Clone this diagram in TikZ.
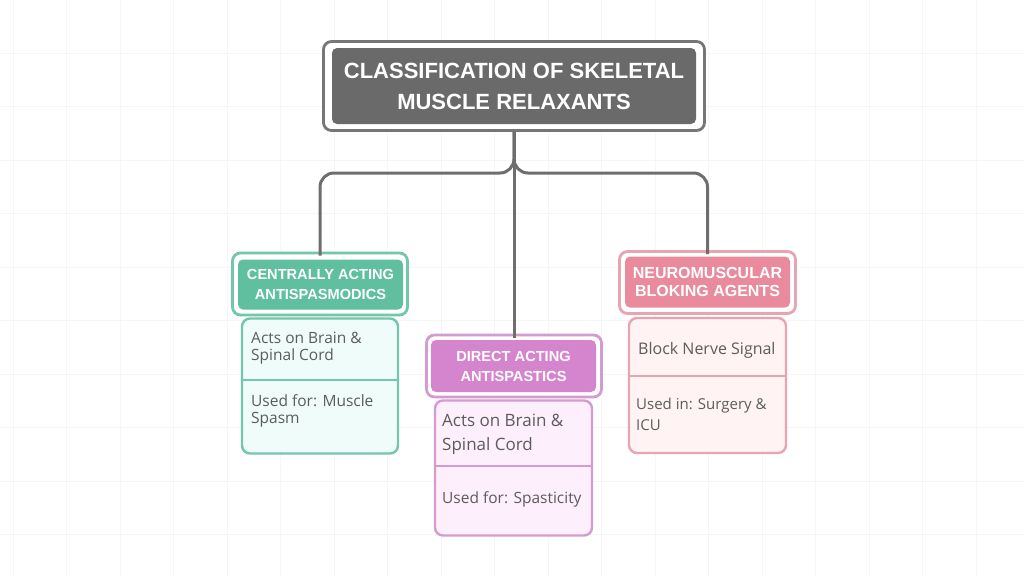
\documentclass[tikz,border=0pt]{standalone}
\usepackage{fontspec}
\setmainfont{Liberation Sans}
\newfontfamily\bodyfont{Open Sans}
\definecolor{gridc}{HTML}{F6F6F6}
\definecolor{titlestroke}{HTML}{767676}
\definecolor{titlefill}{HTML}{6A6A6A}
\definecolor{connc}{HTML}{6E6E6E}
\definecolor{txtc}{HTML}{5C5C5C}
\definecolor{gstroke}{HTML}{72C6AC}
\definecolor{gfill}{HTML}{5FBF9F}
\definecolor{gbg}{HTML}{EFFCFA}
\definecolor{pstroke}{HTML}{D49BD0}
\definecolor{pfill}{HTML}{D585CD}
\definecolor{pbg}{HTML}{FDF0FC}
\definecolor{rstroke}{HTML}{E8A4B0}
\definecolor{rfill}{HTML}{E98B9C}
\definecolor{rbg}{HTML}{FFF3F4}
\tikzset{
  outerbox/.style={draw, line width=2.8pt, rounded corners=8pt, fill=white, inner sep=0pt},
  innerbox/.style={rounded corners=5pt, inner sep=0pt, text=white, align=center, font=\bfseries},
  bodybox/.style={draw, line width=2.4pt, rounded corners=8pt, inner sep=0pt},
  bodytxt/.style={anchor=west, inner sep=0pt, align=left, text=txtc},
  conn/.style={draw=connc, line width=3pt, rounded corners=14pt},
}
\begin{document}
\begin{tikzpicture}[x=1pt,y=-1pt]
\useasboundingbox (0,0) rectangle (1024,576);
\fill[white] (0,0) rectangle (1024,576);
% faint grid
\foreach \i in {0,...,19} {\draw[gridc, line width=1pt] (13+53.5*\i,0) -- (13+53.5*\i,576);}
\foreach \j in {0,...,10} {\draw[gridc, line width=1pt] (0,-0.5+53.5*\j) -- (1024,-0.5+53.5*\j);}

% title
\node[outerbox, draw=titlestroke, minimum width=381pt, minimum height=89pt] (title) at (514,86) {};
\node[innerbox, fill=titlefill, minimum width=364pt, minimum height=76pt, font=\bfseries\fontsize{22}{31}\selectfont] (titletxt) at (514,86) {CLASSIFICATION OF SKELETAL\\MUSCLE RELAXANTS};

% left (green)
\node[bodybox, draw=gstroke, fill=gbg, minimum width=156pt, minimum height=135pt] (gbody) at (320,386) {};
\draw[gstroke, line width=2.4pt] (gbody.west |- 0,380) -- (gbody.east |- 0,380);
\node[outerbox, draw=gstroke, minimum width=175pt, minimum height=62pt] (gout) at (320,284) {};
\node[innerbox, fill=gfill, minimum width=165pt, minimum height=50pt, font=\bfseries\fontsize{14.6}{20}\selectfont] (ghead) at (320.5,284.5) {CENTRALLY ACTING\\ANTISPASMODICS};
\node[bodytxt, font=\bodyfont\fontsize{15.5}{17}\selectfont] (g1) at (251,348.5) {Acts on Brain \&\\Spinal Cord};
\node[bodytxt, font=\bodyfont\fontsize{15.5}{17}\selectfont] (g2) at (251,410.5) {Used for: Muscle\\Spasm};

% middle (purple)
\node[bodybox, draw=pstroke, fill=pbg, minimum width=157pt, minimum height=135pt] (pbody) at (513.5,468) {};
\draw[pstroke, line width=2.4pt] (pbody.west |- 0,466) -- (pbody.east |- 0,466);
\node[outerbox, draw=pstroke, minimum width=175pt, minimum height=62pt] (pout) at (514,366) {};
\node[innerbox, fill=pfill, minimum width=165pt, minimum height=52pt, font=\bfseries\fontsize{14.6}{20}\selectfont] (phead) at (513.5,366) {DIRECT ACTING\\ANTISPASTICS};
\node[bodytxt, font=\bodyfont\fontsize{17}{24}\selectfont] (p1) at (442,434) {Acts on Brain \&\\Spinal Cord};
\node[bodytxt, font=\bodyfont\fontsize{15.5}{17}\selectfont] (p2) at (442,499) {Used for: Spasticity};

% right (pink)
\node[bodybox, draw=rstroke, fill=rbg, minimum width=157pt, minimum height=135pt] (rbody) at (707.5,385.5) {};
\draw[rstroke, line width=2.4pt] (rbody.west |- 0,376) -- (rbody.east |- 0,376);
\node[outerbox, draw=rstroke, minimum width=176pt, minimum height=62pt] (rout) at (707.5,282.5) {};
\node[innerbox, fill=rfill, minimum width=165pt, minimum height=51pt, font=\bfseries\fontsize{16}{18}\selectfont] (rhead) at (707.5,282) {NEUROMUSCULAR\\BLOKING AGENTS};
\node[bodytxt, font=\bodyfont\fontsize{16}{17}\selectfont] (r1) at (638,350) {Block Nerve Signal};
\node[bodytxt, font=\bodyfont\fontsize{15}{21}\selectfont] (r2) at (636,414.5) {Used in: Surgery \&\\ICU};

% connectors
\coordinate (fork) at (514,173);
\draw[conn] (title.south) -- (fork) -| ([yshift=-4pt]gout.north);
\draw[conn] (title.south) -- (fork) -| ([yshift=-4pt]rout.north);
\draw[conn] (title.south) -- ([yshift=-4pt]pout.north);
\end{tikzpicture}
\end{document}
